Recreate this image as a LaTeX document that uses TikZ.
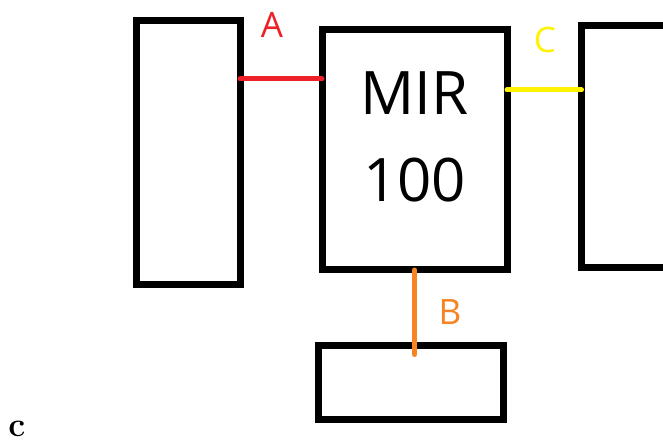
\documentclass[tikz,border=0pt]{standalone}
\usepackage{fontspec}
\newfontfamily\boxfont{Open Sans}
\usetikzlibrary{calc}
\definecolor{linkred}{HTML}{EE2027}
\definecolor{linkyellow}{HTML}{FFF200}
\definecolor{linkorange}{HTML}{F68423}

\begin{document}
\begin{tikzpicture}[x=1pt,y=1pt,
  unit/.style={draw=black,line width=7pt,fill=white,inner sep=0pt,outer sep=0pt},
  link/.style={line width=5pt,line cap=round},
  tag/.style={font=\boxfont\fontsize{35}{40}\selectfont,inner sep=0pt}]
  \clip (0,0) rectangle (663,441);
  % Boxes
  \node[unit,minimum width=104,minimum height=264] (left) at (188,288) {};
  \node[unit,minimum width=185,minimum height=240] (mir) at (414.5,291) {};
  \node[unit,minimum width=185,minimum height=242] (right) at (674,294) {};
  \node[unit,minimum width=185,minimum height=74] (bottom) at (411,58.5) {};
  \node[font=\boxfont\fontsize{60}{87}\selectfont,align=center,inner sep=0pt] (mirtext)
    at ($(mir.center)+(0,13)$) {MIR\\100};
  % Links
  \coordinate (aend) at ($(mir.north west)!0.204!(mir.south west)$);
  \coordinate (cend) at ($(mir.north east)!0.25!(mir.south east)$);
  \coordinate (bend) at ($(mir.south |- bottom.north)+(0,-9)$);
  \draw[link,linkred] (left.east |- aend) -- (aend);
  \draw[link,linkyellow] (cend) -- (right.west |- cend);
  \draw[link,linkorange] (mir.south) -- (bend);
  \node[tag,text=linkred] (taga) at (272,416) {A};
  \node[tag,text=linkyellow] (tagc) at (545,401) {C};
  \node[tag,text=linkorange] (tagb) at (450,129) {B};
  % Caption
  \node[font=\fontsize{34}{36}\selectfont\bfseries,anchor=base,inner sep=0pt] (cap) at (17,4) {c};
\end{tikzpicture}
\end{document}
